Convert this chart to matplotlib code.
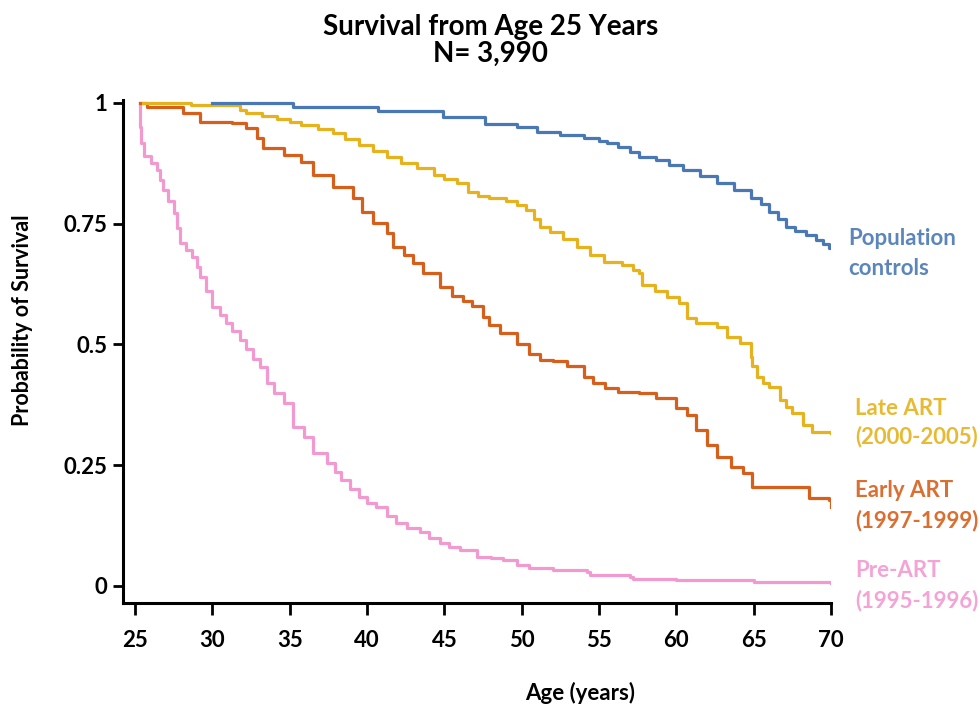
import matplotlib
matplotlib.use("Agg")
import matplotlib.pyplot as plt

# --- data ----------------------------------------------------------------
pop_age = [30.0, 35.2, 40.7, 44.9, 47.6, 49.7, 51.0, 52.5, 54.0, 55.0, 55.5,
           56.2, 57.0, 57.6, 58.7, 59.5, 60.4, 61.5, 62.6, 63.7, 64.8, 65.5,
           66.0, 66.6, 67.1, 67.7, 68.4, 69.0, 69.5, 69.9, 70.0]
pop_surv = [1.0, 0.992, 0.983, 0.970, 0.957, 0.950, 0.940, 0.933, 0.928,
            0.922, 0.917, 0.908, 0.899, 0.888, 0.882, 0.872, 0.861, 0.848,
            0.834, 0.819, 0.803, 0.790, 0.774, 0.760, 0.743, 0.735, 0.727,
            0.716, 0.708, 0.700, 0.700]

late_age = [25.5, 28.6, 31.8, 32.2, 33.2, 34.2, 35.0, 35.7, 36.8, 37.8, 38.6,
            39.5, 40.4, 41.3, 42.2, 43.2, 44.3, 45.0, 45.8, 46.5, 47.2, 47.9,
            49.0, 49.7, 50.3, 50.8, 51.2, 51.8, 52.7, 53.6, 54.4, 55.3, 56.5,
            57.2, 57.6, 57.8, 58.6, 59.4, 60.2, 60.7, 61.3, 62.6, 63.3, 64.1,
            64.8, 64.9, 65.2, 65.6, 66.0, 66.7, 67.1, 67.5, 68.2, 68.8, 70.0]
late_surv = [1.0, 0.995, 0.986, 0.979, 0.973, 0.967, 0.960, 0.954, 0.945,
             0.937, 0.925, 0.913, 0.900, 0.888, 0.876, 0.865, 0.851, 0.843,
             0.835, 0.816, 0.808, 0.803, 0.796, 0.789, 0.778, 0.760, 0.743,
             0.733, 0.718, 0.702, 0.685, 0.671, 0.665, 0.655, 0.648, 0.623,
             0.610, 0.598, 0.586, 0.555, 0.544, 0.536, 0.516, 0.503, 0.474,
             0.455, 0.433, 0.420, 0.412, 0.385, 0.370, 0.358, 0.333, 0.319,
             0.317]

early_age = [25.3, 25.8, 28.1, 29.2, 31.3, 32.2, 32.9, 33.3, 34.6, 35.7, 36.5,
             37.8, 39.1, 39.7, 40.4, 41.3, 41.7, 42.4, 43.0, 43.6, 44.7, 45.5,
             46.2, 46.8, 47.5, 47.9, 48.6, 49.7, 50.5, 51.2, 52.0, 52.9, 54.0,
             54.6, 55.4, 56.2, 57.6, 58.7, 60.0, 60.7, 61.3, 62.0, 62.6, 63.5,
             64.3, 64.9, 68.0, 68.6, 69.9, 70.0]
early_surv = [1.0, 0.992, 0.979, 0.961, 0.958, 0.948, 0.928, 0.907, 0.892,
              0.878, 0.851, 0.826, 0.803, 0.774, 0.752, 0.731, 0.702, 0.685,
              0.669, 0.648, 0.619, 0.600, 0.590, 0.580, 0.557, 0.540, 0.524,
              0.500, 0.480, 0.468, 0.465, 0.455, 0.433, 0.420, 0.410, 0.402,
              0.400, 0.389, 0.368, 0.354, 0.323, 0.292, 0.267, 0.246, 0.234,
              0.205, 0.205, 0.182, 0.178, 0.164]

pre_age = [25.3, 25.35, 25.4, 25.6, 26.0, 26.4, 26.6, 26.8, 27.1, 27.5, 27.7,
           27.9, 28.3, 28.7, 29.0, 29.2, 29.6, 30.0, 30.5, 30.9, 31.3, 31.8,
           32.2, 32.6, 33.1, 33.5, 34.0, 34.6, 35.2, 35.9, 36.5, 37.4, 37.9,
           38.3, 38.9, 39.5, 40.0, 40.6, 41.3, 41.9, 42.6, 43.4, 44.0, 44.7,
           45.3, 46.0, 47.1, 48.0, 48.8, 49.7, 50.5, 52.0, 54.2, 54.4, 57.0,
           57.2, 60.0, 65.0, 70.0]
pre_surv = [1.0, 0.95, 0.917, 0.890, 0.875, 0.861, 0.840, 0.820, 0.797, 0.772,
            0.740, 0.710, 0.695, 0.681, 0.660, 0.640, 0.610, 0.578, 0.560,
            0.544, 0.527, 0.509, 0.490, 0.470, 0.453, 0.420, 0.400, 0.379,
            0.329, 0.308, 0.275, 0.255, 0.235, 0.219, 0.200, 0.184, 0.172,
            0.164, 0.145, 0.130, 0.120, 0.112, 0.100, 0.089, 0.080, 0.075,
            0.060, 0.057, 0.054, 0.043, 0.037, 0.034, 0.029, 0.023, 0.019,
            0.014, 0.012, 0.009, 0.006]

x_ticks = [25, 30, 35, 40, 45, 50, 55, 60, 65, 70]
y_ticks = [0, 0.25, 0.5, 0.75, 1]
y_ticklabels = ["0", "0.25", "0.5", "0.75", "1"]

# --- style ---------------------------------------------------------------
BLUE = "#4a78b4"
YELLOW = "#e6b31e"
ORANGE = "#d65f1c"
PINK = "#f29ad0"

plt.rcParams["font.family"] = ["Lato", "DejaVu Sans"]
plt.rcParams["font.weight"] = "bold"
plt.rcParams["axes.labelweight"] = "bold"
FS = 16

fig = plt.figure(figsize=(9.8, 7.06), dpi=100)
ax = fig.add_axes([0.1255, 0.1459, 0.7225, 0.7125])

lw = 2.3
ax.plot(pre_age, pre_surv, drawstyle="steps-post", color=PINK, lw=lw)
ax.plot(early_age, early_surv, drawstyle="steps-post", color=ORANGE, lw=lw)
ax.plot(late_age, late_surv, drawstyle="steps-post", color=YELLOW, lw=lw)
ax.plot(pop_age, pop_surv, drawstyle="steps-post", color=BLUE, lw=lw)

ax.set_xlim(24.22, 70.0)
ax.set_ylim(-0.0352, 1.006)
ax.set_xticks(x_ticks)
ax.set_yticks(y_ticks)
ax.set_yticklabels(y_ticklabels)

for s in ("top", "right"):
    ax.spines[s].set_visible(False)
for s in ("left", "bottom"):
    ax.spines[s].set_linewidth(2.2)
    ax.spines[s].set_color("black")
ax.tick_params(axis="x", length=8.5, width=2.0, pad=11, labelsize=FS)
ax.tick_params(axis="y", length=7.5, width=2.0, pad=3.5, labelsize=FS)

ax.set_xlabel("Age (years)", fontsize=16)
ax.xaxis.set_label_coords(0.645, -0.157)
ax.set_ylabel("Probability of Survival", fontsize=15.5)
ax.yaxis.set_label_coords(-0.127, 0.563)

fig.text(0.501, 0.9504, "Survival from Age 25 Years", ha="center",
         va="baseline", fontsize=20)
fig.text(0.501, 0.912, "N= 3,990", ha="center", va="baseline", fontsize=20)

# curve labels at right
lab = [("Population", 848, 245, BLUE), ("controls", 848, 275, BLUE),
       ("Late ART", 855, 415, YELLOW), ("(2000-2005)", 855, 443, YELLOW),
       ("Early ART", 855, 497, ORANGE), ("(1997-1999)", 855, 527, ORANGE),
       ("Pre-ART", 855, 577, PINK), ("(1995-1996)", 855, 607, PINK)]
for txt, px, py, col in lab:
    fig.text(px / 980, 1 - py / 706, txt, color=col, ha="left",
             va="baseline", fontsize=FS, alpha=0.9)

fig.savefig("out.png", dpi=100)
